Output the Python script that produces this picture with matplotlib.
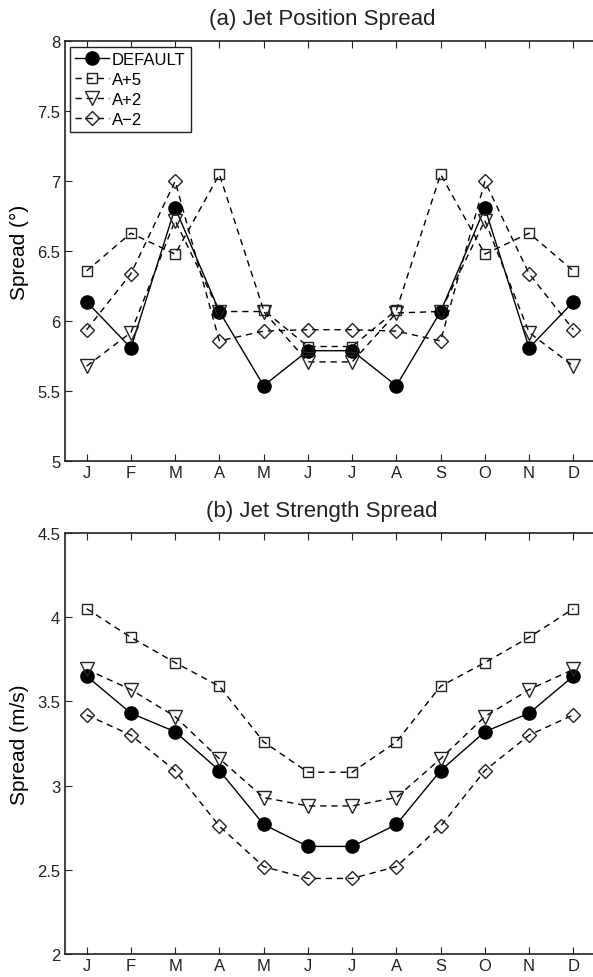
import matplotlib
matplotlib.use("Agg")
import matplotlib.pyplot as plt

plt.rcParams['font.family'] = ['Liberation Sans', 'DejaVu Sans']

months = ["J", "F", "M", "A", "M", "J", "J", "A", "S", "O", "N", "D"]

# (a) jet position spread (deg)
pos_default = [6.14, 5.81, 6.81, 6.07, 5.54, 5.79, 5.79, 5.54, 6.07, 6.81, 5.81, 6.14]
pos_a5 = [6.36, 6.63, 6.48, 7.05, 6.08, 5.82, 5.82, 6.08, 7.05, 6.48, 6.63, 6.36]
pos_a2 = [5.68, 5.92, 6.72, 6.07, 6.07, 5.71, 5.71, 6.06, 6.07, 6.72, 5.92, 5.68]
pos_am2 = [5.94, 6.34, 7.00, 5.86, 5.93, 5.94, 5.94, 5.93, 5.86, 7.00, 6.34, 5.94]

# (b) jet strength spread (m/s)
str_default = [3.65, 3.43, 3.32, 3.09, 2.77, 2.64, 2.64, 2.77, 3.09, 3.32, 3.43, 3.65]
str_a5 = [4.05, 3.88, 3.73, 3.59, 3.26, 3.08, 3.08, 3.26, 3.59, 3.73, 3.88, 4.05]
str_a2 = [3.69, 3.57, 3.41, 3.16, 2.93, 2.88, 2.88, 2.93, 3.16, 3.41, 3.57, 3.69]
str_am2 = [3.42, 3.30, 3.09, 2.76, 2.52, 2.45, 2.45, 2.52, 2.76, 3.09, 3.30, 3.42]

x = list(range(1, 13))
dash = (0, (4.5, 3.5))

fig = plt.figure(figsize=(5.93, 9.78), dpi=100)
ax1 = fig.add_axes([0.1088, 0.5273, 0.8954, 0.4294])
ax2 = fig.add_axes([0.1088, 0.0232, 0.8954, 0.4310])


def draw(ax, d, a5, a2, am2):
    ax.plot(x, d, color='black', lw=1.0, marker='o', ms=9.5,
            mfc='black', mec='black', label='DEFAULT')
    ax.plot(x, a5, color='black', lw=1.0, ls=dash, marker='s', ms=7.5,
            mfc='none', mec='#222222', mew=1.0, label='A+5')
    ax.plot(x, a2, color='black', lw=1.0, ls=dash, marker='v', ms=10,
            mfc='none', mec='#222222', mew=1.0, label='A+2')
    ax.plot(x, am2, color='black', lw=1.0, ls=dash, marker='D', ms=7.5,
            mfc='none', mec='#222222', mew=1.0, label='A\u22122')
    ax.set_xlim(0.5, 12.5)
    ax.set_xticks(x)
    ax.set_xticklabels(months)
    ax.tick_params(direction='in', length=5, width=0.8, labelsize=12,
                   top=True, colors='#222222')
    ax.tick_params(axis='x', pad=2.5)
    ax.tick_params(axis='y', pad=3)
    for s in ax.spines.values():
        s.set_linewidth(1.2)
        s.set_color('#222222')


draw(ax1, pos_default, pos_a5, pos_a2, pos_am2)
ax1.set_ylim(5, 8)
ax1.set_yticks([5, 5.5, 6, 6.5, 7, 7.5, 8])
ax1.set_yticklabels(["5", "5.5", "6", "6.5", "7", "7.5", "8"])
ax1.set_ylabel("Spread (\u00b0)", fontsize=15, labelpad=6)
leg = ax1.legend(loc='upper left', fontsize=12, handlelength=2.0,
                 handletextpad=0.2, borderpad=0.3, labelspacing=0.3,
                 borderaxespad=0.35, fancybox=False, framealpha=1)
leg.get_frame().set_edgecolor('#222222')
leg.get_frame().set_linewidth(1.0)

draw(ax2, str_default, str_a5, str_a2, str_am2)
ax2.set_ylim(2, 4.5)
ax2.set_yticks([2, 2.5, 3, 3.5, 4, 4.5])
ax2.set_yticklabels(["2", "2.5", "3", "3.5", "4", "4.5"])
ax2.set_ylabel("Spread (m/s)", fontsize=15, labelpad=6)

fig.text(322 / 593, 1 - 20 / 978, "(a) Jet Position Spread", fontsize=16,
         ha='center', va='center', color='#222222')
fig.text(322 / 593, 1 - 512 / 978, "(b) Jet Strength Spread", fontsize=16,
         ha='center', va='center', color='#222222')

fig.savefig("out.png", dpi=100)
